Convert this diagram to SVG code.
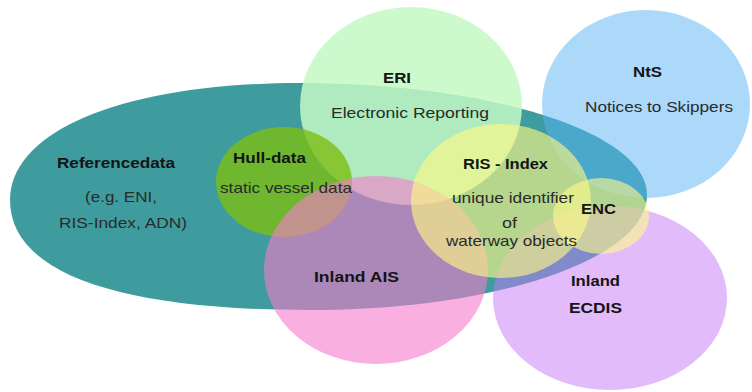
<svg xmlns="http://www.w3.org/2000/svg" width="752" height="392" viewBox="0 0 752 392">
<style>
text{font-family:"Liberation Sans",Arial,sans-serif;fill:#1c1c1c}
.b{font-weight:bold;font-size:14px;fill:#141414}
.r{font-size:15px;fill:#2a2a2a}
</style>
<rect width="752" height="392" fill="#ffffff"/>
<g id="referencedata">
<path d="M10,200 C10,130 126,83 300,83 C492,83 647,133 647,195 C647,259 496,310 310,310 C115,310 10,272 10,200 Z" fill="#3f9c9e"/>
</g>
<g id="nts">
<ellipse cx="646" cy="104" rx="104" ry="94" fill="rgb(90,180,245)" opacity="0.5"/>
</g>
<g id="inland-ecdis">
<ellipse cx="610" cy="298" rx="117" ry="92" fill="rgb(196,120,246)" opacity="0.5"/>
</g>
<g id="eri">
<ellipse cx="411" cy="106" rx="111" ry="99" fill="rgb(196,249,196)" opacity="0.85"/>
</g>
<g id="hull-data">
<ellipse cx="284" cy="182" rx="68" ry="55" fill="rgb(125,190,20)" opacity="0.8"/>
</g>
<g id="inland-ais">
<ellipse cx="376" cy="270" rx="112" ry="94" fill="rgb(245,123,203)" opacity="0.6"/>
</g>
<g id="ris-index">
<ellipse cx="501" cy="201" rx="90" ry="77" fill="rgb(255,250,130)" opacity="0.62"/>
</g>
<g id="enc">
<ellipse cx="601" cy="216" rx="48" ry="38" fill="rgb(255,250,140)" opacity="0.6"/>
</g>
<g id="connectors"/>
<g id="labels">
<text class="b" x="57" y="168" textLength="118" lengthAdjust="spacingAndGlyphs">Referencedata</text>
<text class="r" x="85" y="202" textLength="72" lengthAdjust="spacingAndGlyphs">(e.g. ENI,</text>
<text class="r" x="59" y="228" textLength="128" lengthAdjust="spacingAndGlyphs">RIS-Index, ADN)</text>
<text class="b" x="233" y="163" textLength="73" lengthAdjust="spacingAndGlyphs">Hull-data</text>
<text class="r" x="220" y="193" textLength="132" lengthAdjust="spacingAndGlyphs">static vessel data</text>
<text class="b" x="383" y="83" textLength="28" lengthAdjust="spacingAndGlyphs">ERI</text>
<text class="r" x="331" y="118" textLength="158" lengthAdjust="spacingAndGlyphs">Electronic Reporting</text>
<text class="b" x="633" y="77" textLength="29" lengthAdjust="spacingAndGlyphs">NtS</text>
<text class="r" x="585" y="112" textLength="148" lengthAdjust="spacingAndGlyphs">Notices to Skippers</text>
<text class="b" x="463" y="169" textLength="85" lengthAdjust="spacingAndGlyphs">RIS - Index</text>
<text class="r" x="452" y="203" textLength="122" lengthAdjust="spacingAndGlyphs">unique identifier</text>
<text class="r" x="502" y="228" textLength="15" lengthAdjust="spacingAndGlyphs">of</text>
<text class="r" x="446" y="246" textLength="131" lengthAdjust="spacingAndGlyphs">waterway objects</text>
<text class="b" x="581" y="214" textLength="35" lengthAdjust="spacingAndGlyphs">ENC</text>
<text class="b" x="314" y="282" textLength="85" lengthAdjust="spacingAndGlyphs">Inland AIS</text>
<text class="b" x="571" y="286" textLength="49" lengthAdjust="spacingAndGlyphs">Inland</text>
<text class="b" x="569" y="313" textLength="53" lengthAdjust="spacingAndGlyphs">ECDIS</text>
</g>
</svg>
